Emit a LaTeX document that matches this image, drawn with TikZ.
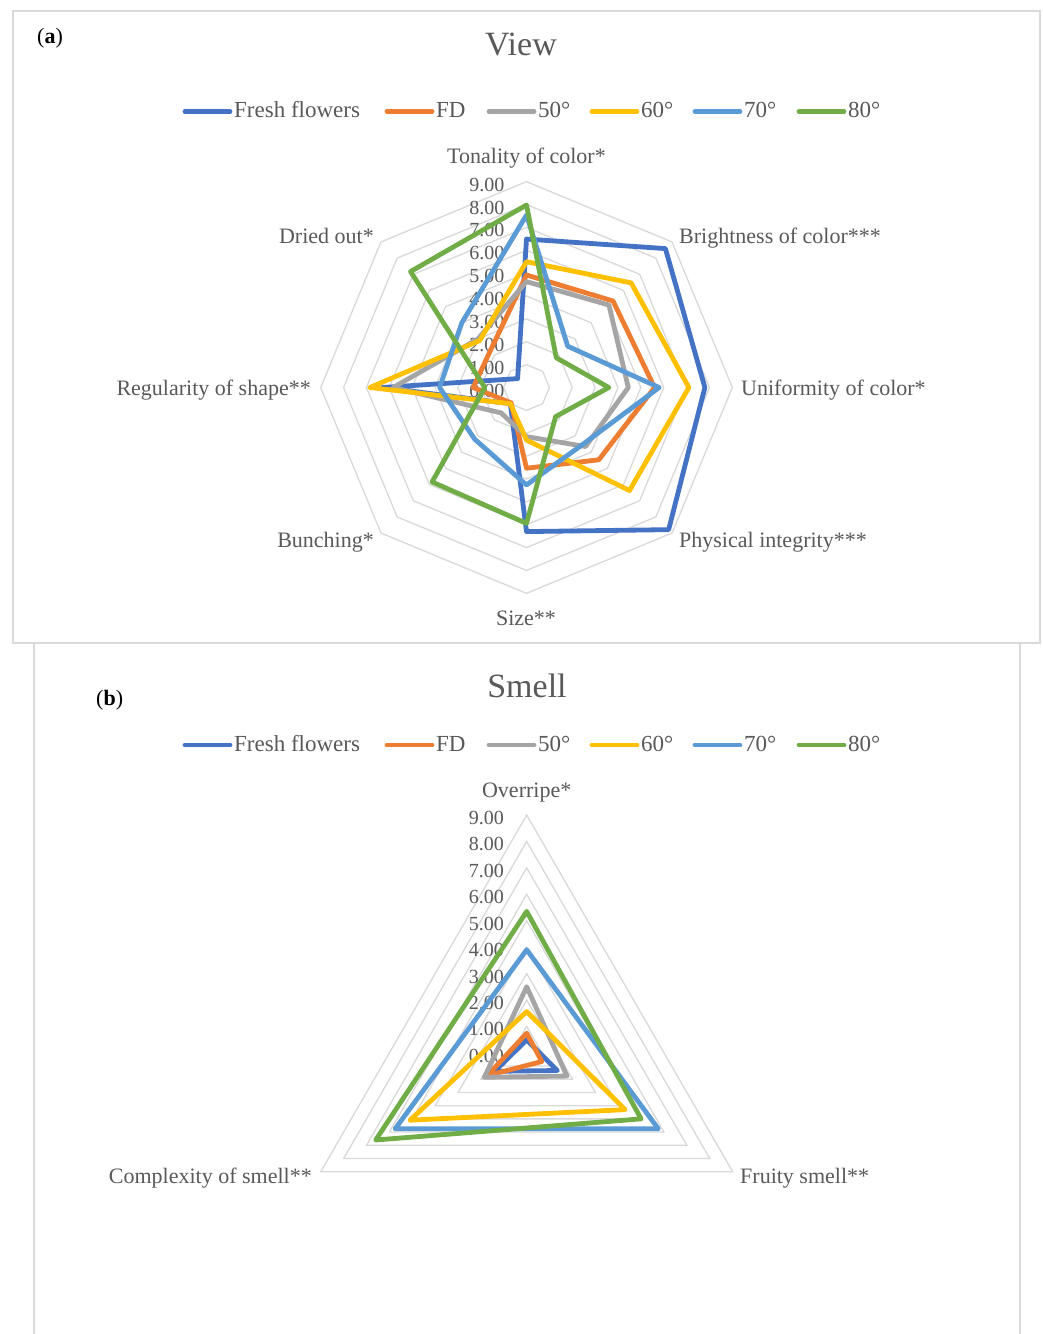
\documentclass[tikz,border=0pt]{standalone}
\usepackage{fontspec}
\setmainfont{Liberation Serif}
\definecolor{cFresh}{HTML}{4472C4}
\definecolor{cFD}{HTML}{ED7D31}
\definecolor{cFifty}{HTML}{A5A5A5}
\definecolor{cSixty}{HTML}{FFC000}
\definecolor{cSeventy}{HTML}{5B9BD5}
\definecolor{cEighty}{HTML}{70AD47}
\definecolor{txtc}{HTML}{595959}
\definecolor{gridc}{HTML}{D9D9D9}
\newcommand\octser[9]{\draw[ser,#1] (90:{#2*\ut}) -- (45:{#3*\ut}) -- (0:{#4*\ut}) -- (-45:{#5*\ut}) -- (-90:{#6*\ut}) -- (-135:{#7*\ut}) -- (180:{#8*\ut}) -- (135:{#9*\ut}) -- cycle;}
\newcommand\triser[4]{\draw[ser,#1] (90:{#2*\ub}) -- (-30:{#3*\ub}) -- (210:{#4*\ub}) -- cycle;}
\begin{document}
\begin{tikzpicture}[x=1pt,y=-1pt,
  lab/.style={text=txtc, font=\fontsize{22}{26}\selectfont, inner sep=0pt, anchor=base},
  ttl/.style={text=txtc, font=\fontsize{34}{40}\selectfont, inner sep=0pt, anchor=base},
  tick/.style={text=txtc, font=\fontsize{20}{24}\selectfont, inner sep=0pt, anchor=base east},
  leg/.style={text=txtc, font=\fontsize{23}{27}\selectfont, inner sep=0pt, anchor=base west},
  panel/.style={text=black, font=\fontsize{22}{26}\selectfont, inner sep=0pt, anchor=base west},
  gridline/.style={draw=gridc, line width=1.3pt},
  ser/.style={line width=4.8pt, line join=round},
  legline/.style={line width=4.8pt, line cap=round},
  frame/.style={draw=gridc, line width=1.3pt}]
\path[use as bounding box] (0,0) rectangle (1043,1334);
\fill[white] (0,0) rectangle (1043,1334);
% frames
\draw[frame] (13,11) rectangle (1040,643);
\draw[frame] (34,643) -- (34,1334);
\draw[frame] (1020,643) -- (1020,1334);

% ---------- panel (a) ----------
\node[panel] (pa) at (37,43) {(\textbf{a})};
\node[ttl] (tview) at (521,55) {View};
\foreach \xa/\xb/\c/\t [count=\i] in {185/230/cFresh/Fresh flowers, 387/432/cFD/FD, 489/534/cFifty/50°, 592/637/cSixty/60°, 695/740/cSeventy/70°, 799/844/cEighty/80°}{
  \coordinate (la\i s) at (\xa,111.5);
  \coordinate (la\i e) at (\xb,111.5);
  \draw[legline,\c] (la\i s) -- (la\i e);
  \node[leg] (lta\i) at (\xb+4,117.5) {\t};
}
\begin{scope}[shift={(526.5,387.5)}, y=1pt]
  \def\ut{22.87}
  \foreach \r in {1,...,9}
    \draw[gridline] (0:{\r*\ut}) \foreach \a in {45,90,...,315}{ -- (\a:{\r*\ut})} -- cycle;
  \foreach \v in {0,...,9}
    \node[tick] (ta\v) at (-22,{\v*\ut-9.5}) {\v.00};
  \octser{cFresh}{6.49}{8.59}{7.8}{8.79}{6.3}{1.0}{6.3}{0.55}
  \octser{cFD}{4.92}{5.35}{5.6}{4.47}{3.53}{0.95}{2.33}{2.25}
  \octser{cFifty}{4.63}{5.1}{4.45}{3.65}{2.15}{1.57}{5.83}{3.0}
  \octser{cSixty}{5.5}{6.47}{7.1}{6.37}{2.3}{1.0}{6.85}{2.9}
  \octser{cSeventy}{7.54}{2.55}{5.8}{3.5}{4.26}{3.2}{3.8}{4.0}
  \octser{cEighty}{7.98}{1.84}{3.6}{1.8}{5.94}{5.84}{1.82}{7.17}
\end{scope}
\node[lab] (ax1) at (526.5,163.5) {Tonality of color*};
\node[lab,anchor=base west] (ax2) at (679,243) {Brightness of color***};
\node[lab,anchor=base west] (ax3) at (741,395) {Uniformity of color*};
\node[lab,anchor=base west] (ax4) at (679,547) {Physical integrity***};
\node[lab] (ax5) at (526,625) {Size**};
\node[lab,anchor=base east] (ax6) at (374,547) {Bunching*};
\node[lab,anchor=base east] (ax7) at (311,395) {Regularity of shape**};
\node[lab,anchor=base east] (ax8) at (374,243) {Dried out*};

% ---------- panel (b) ----------
\node[panel] (pb) at (96,705) {(\textbf{b})};
\node[ttl] (tsmell) at (527,697) {Smell};
\foreach \xa/\xb/\c/\t [count=\i] in {185/230/cFresh/Fresh flowers, 387/432/cFD/FD, 489/534/cFifty/50°, 592/637/cSixty/60°, 695/740/cSeventy/70°, 799/844/cEighty/80°}{
  \coordinate (lb\i s) at (\xa,745);
  \coordinate (lb\i e) at (\xb,745);
  \draw[legline,\c] (lb\i s) -- (lb\i e);
  \node[leg] (ltb\i) at (\xb+4,751) {\t};
}
\begin{scope}[shift={(526.7,1052.8)}, y=1pt]
  \def\ub{26.42}
  \foreach \r in {1,...,9}
    \draw[gridline] (90:{\r*\ub}) -- (-30:{\r*\ub}) -- (210:{\r*\ub}) -- cycle;
  \foreach \v in {0,...,9}
    \node[tick] (tb\v) at (-22.7,{\v*\ub-9.5}) {\v.00};
  \triser{cFresh}{0.49}{1.34}{1.4}
  \triser{cFD}{0.74}{0.66}{1.73}
  \triser{cFifty}{2.5}{1.76}{1.85}
  \triser{cSixty}{1.56}{4.3}{5.1}
  \triser{cSeventy}{3.9}{5.75}{5.75}
  \triser{cEighty}{5.35}{5.0}{6.6}
\end{scope}
\node[lab] (bx1) at (526.7,797) {Overripe*};
\node[lab,anchor=base west] (bx2) at (740,1183) {Fruity smell**};
\node[lab,anchor=base east] (bx3) at (312,1183) {Complexity of smell**};
\end{tikzpicture}
\end{document}
